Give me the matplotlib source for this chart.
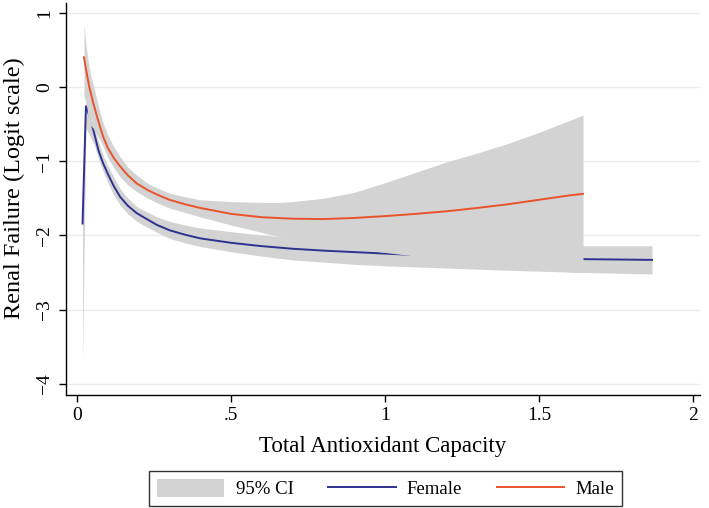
import matplotlib
matplotlib.use("Agg")
import matplotlib.pyplot as plt
from matplotlib.patches import Patch
from matplotlib.lines import Line2D

# Female fitted line and 95% CI
female_x = [0.018, 0.029, 0.038, 0.048, 0.058, 0.07, 0.085, 0.10, 0.12, 0.14,
            0.165, 0.194, 0.21, 0.26, 0.30, 0.35, 0.40, 0.50, 0.60, 0.70,
            0.80, 0.90, 1.00, 1.10, 1.25, 1.45, 1.643, 1.867]
female_y = [-1.84, -0.26, -0.36, -0.50, -0.66, -0.86, -1.03, -1.17, -1.34, -1.48,
            -1.60, -1.70, -1.74, -1.86, -1.93, -1.99, -2.04, -2.10, -2.145, -2.18,
            -2.205, -2.225, -2.245, -2.265, -2.285, -2.305, -2.32, -2.33]

female_ci_x = [0.018, 0.029, 0.058, 0.07, 0.085, 0.10, 0.12, 0.14, 0.165, 0.194,
               0.21, 0.26, 0.30, 0.35, 0.40, 0.50, 0.60, 0.70, 0.80, 0.90,
               1.00, 1.20, 1.40, 1.643, 1.867]
female_lo = [-3.72, -0.55, -0.80, -0.97, -1.14, -1.29, -1.46, -1.59, -1.71, -1.81,
             -1.85, -1.96, -2.04, -2.10, -2.15, -2.22, -2.28, -2.33, -2.36, -2.39,
             -2.41, -2.44, -2.47, -2.50, -2.52]
female_hi = [-1.60, -0.10, -0.58, -0.74, -0.92, -1.06, -1.22, -1.37, -1.50, -1.61,
             -1.65, -1.75, -1.81, -1.86, -1.90, -1.95, -1.995, -2.03, -2.05, -2.07,
             -2.085, -2.11, -2.125, -2.14, -2.14]

# Male fitted line and 95% CI
male_x = [0.0227, 0.03, 0.04, 0.053, 0.07, 0.085, 0.10, 0.12, 0.14, 0.165,
          0.194, 0.23, 0.26, 0.30, 0.35, 0.40, 0.50, 0.60, 0.70, 0.80,
          0.90, 1.00, 1.10, 1.20, 1.30, 1.40, 1.50, 1.60, 1.643]
male_y = [0.40, 0.22, 0.00, -0.22, -0.47, -0.67, -0.82, -0.96, -1.07, -1.19,
          -1.30, -1.39, -1.45, -1.52, -1.58, -1.63, -1.71, -1.755, -1.775, -1.78,
          -1.765, -1.74, -1.71, -1.675, -1.63, -1.58, -1.52, -1.46, -1.44]

male_ci_x = [0.0227, 0.031, 0.036, 0.045, 0.053, 0.058, 0.07, 0.085, 0.10, 0.12,
             0.14, 0.165, 0.194, 0.23, 0.26, 0.30, 0.35, 0.40, 0.50, 0.60,
             0.66, 0.70, 0.80, 0.90, 1.00, 1.10, 1.20, 1.30, 1.40, 1.50,
             1.60, 1.643]
male_lo = [-0.14, -0.20, -0.45, -0.52, -0.56, -0.60, -0.68, -0.80, -0.95, -1.09,
           -1.21, -1.32, -1.41, -1.50, -1.56, -1.63, -1.69, -1.75, -1.86, -1.96,
           -2.02, -2.05, -2.12, -2.18, -2.23, -2.28, -2.33, -2.37, -2.41, -2.45,
           -2.49, -2.50]
male_hi = [0.84, 0.50, 0.36, 0.14, 0.03, -0.06, -0.27, -0.49, -0.65, -0.81,
           -0.94, -1.08, -1.19, -1.30, -1.36, -1.43, -1.48, -1.52, -1.545, -1.555,
           -1.555, -1.545, -1.50, -1.42, -1.29, -1.15, -1.01, -0.89, -0.76, -0.61,
           -0.45, -0.38]

x_ticks = [0, 0.5, 1, 1.5, 2]
x_tick_labels = ["0", ".5", "1", "1.5", "2"]
y_ticks = [-4, -3, -2, -1, 0, 1]
y_tick_labels = ["\u22124", "\u22123", "\u22122", "\u22121", "0", "1"]

BAND = "#d3d3d3"
BLUE = "#2e318f"
ORANGE = "#e9532b"

plt.rcParams["font.family"] = ["Liberation Serif", "DejaVu Serif"]

fig = plt.figure(figsize=(7.09, 5.08), dpi=100)
ax = fig.add_axes([66 / 709, (508 - 395) / 508, (700 - 66) / 709, (395 - 3) / 508])

# drawing order as in the original: female CI, female line, male CI, male line
ax.fill_between(female_ci_x, female_lo, female_hi, color=BAND, lw=0, zorder=2)
ax.plot(female_x, female_y, color=BLUE, lw=1.4, zorder=3)
ax.fill_between(male_ci_x, male_lo, male_hi, color=BAND, lw=0, zorder=4)
ax.plot(male_x, male_y, color=ORANGE, lw=1.4, zorder=5)

ax.set_xlim(-0.0357, 2.0227)
ax.set_ylim(-4.151, 1.132)

ax.set_xticks(x_ticks)
ax.set_xticklabels(x_tick_labels, fontsize=14)
ax.set_yticks(y_ticks)
ax.set_yticklabels(y_tick_labels, fontsize=14, rotation=90, va="center")
ax.tick_params(direction="out", length=5, width=1, color="black", pad=4)

ax.grid(axis="y", color="#ececec", lw=1, zorder=0)
ax.set_axisbelow(True)
for side in ("top", "right"):
    ax.spines[side].set_visible(False)
for side in ("left", "bottom"):
    ax.spines[side].set_linewidth(1)
    ax.spines[side].set_color("black")

ax.set_xlabel("Total Antioxidant Capacity", fontsize=16.5, labelpad=8)
ax.set_ylabel("Renal Failure (Logit scale)", fontsize=17.5)
ax.yaxis.set_label_coords(-0.065, 0.527)

handles = [
    Patch(facecolor=BAND, edgecolor="none"),
    Line2D([], [], color=BLUE, lw=1.4),
    Line2D([], [], color=ORANGE, lw=1.4),
]
labels = ["95% CI", "Female", "Male"]
leg = fig.legend(handles, labels, ncol=3, loc="center",
                 bbox_to_anchor=(385.5 / 709, 1 - 488.5 / 508),
                 fontsize=13.5, frameon=True, fancybox=False,
                 handlelength=3.6, handleheight=1.1, handletextpad=0.6,
                 columnspacing=1.85, borderpad=0.4, borderaxespad=0)
leg.get_frame().set_edgecolor("black")
leg.get_frame().set_linewidth(1)

fig.savefig("out.png", dpi=100)
